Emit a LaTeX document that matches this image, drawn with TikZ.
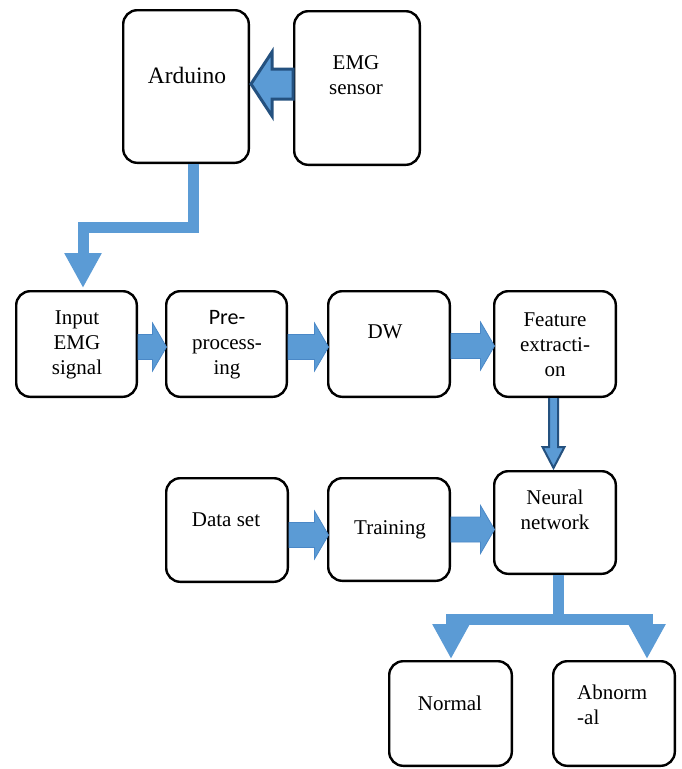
\documentclass[tikz,border=0pt]{standalone}
\usepackage{fontspec}
\setmainfont{Liberation Serif}
\newfontfamily\carl{Carlito}
\usetikzlibrary{calc,arrows.meta}
\definecolor{blk}{HTML}{5B9BD5}
\definecolor{blkdk}{HTML}{24517F}
\definecolor{blked}{HTML}{4A88C7}
\tikzset{
 box/.style={draw=black, line width=2.4pt, rounded corners=14pt, inner sep=0pt},
 txt/.style={align=center, font=\fontsize{21}{25}\selectfont, inner sep=0pt},
 blkfill/.style={fill=blk, draw=blked, line width=0.8pt},
 darkblk/.style={fill=blk, draw=blkdk, line join=miter},
 conn/.style={draw=blk, line width=11pt, line join=miter, -{Triangle[width=35pt,length=35pt]}},
 bar/.style={draw=blk, line width=11pt},
}
\newcommand\hblk[3]{\path[blkfill] let \p1=(#1.east), \p2=(#2.west), \n1={\y1+(#3)} in
 (\x1,\n1+12.5) -- (\x2-12.5,\n1+12.5) -- (\x2-12.5,\n1+24) -- (\x2+1.5,\n1) -- (\x2-12.5,\n1-24) -- (\x2-12.5,\n1-12.5) -- (\x1,\n1-12.5) -- cycle;}
\begin{document}
\begin{tikzpicture}[x=1pt,y=-1pt]
\useasboundingbox (0,0) rectangle (681,769);
\fill[white] (0,0) rectangle (681,769);
% boxes
\node[box, minimum width=125.6pt, minimum height=152.6pt] (ard) at (186,86.5) {};
\node[box, minimum width=125.6pt, minimum height=153.6pt] (emg) at (357,88) {};
\node[box, minimum width=120.6pt, minimum height=105.6pt] (inp) at (76.5,344) {};
\node[box, minimum width=120.6pt, minimum height=105.6pt] (pre) at (226.5,344) {};
\node[box, minimum width=121.6pt, minimum height=105.6pt] (dw) at (389,344) {};
\node[box, minimum width=121.6pt, minimum height=105.6pt] (fea) at (555,344) {};
\node[box, minimum width=121.6pt, minimum height=102.6pt] (nn) at (555,522.5) {};
\node[box, minimum width=121.6pt, minimum height=103.6pt] (ds) at (227,530) {};
\node[box, minimum width=121.6pt, minimum height=102.6pt] (tr) at (389,529.5) {};
\node[box, minimum width=122.6pt, minimum height=104.6pt] (nor) at (450.5,713.5) {};
\node[box, minimum width=121.6pt, minimum height=104.6pt] (abn) at (614,713.5) {};
% texts
\node[txt, font=\fontsize{23.5}{28}\selectfont] (ardt) at (187,75) {Arduino};
\node[txt] (emgt) at (356,75.5) {EMG\\sensor};
\node[txt] (inpt) at (77,345) {Input\\EMG\\signal};
\node[txt] (pret) at (227,345) {{\carl\fontsize{22}{25}\selectfont Pre-}\\process-\\ing};
\node[txt] (dwt) at (385,332) {DW};
\node[txt] (feat) at (555,344.5) {Feature\\extracti-\\on};
\node[txt] (nnt) at (555,510) {Neural\\network};
\node[txt] (dst) at (226,520) {Data set};
\node[txt] (trt) at (390,530) {Training};
\node[txt] (nort) at (450,703) {Normal};
\node[txt, align=left, anchor=west] (abnt) at (577,704.5) {Abnorm\\-al};
% EMG -> Arduino
\draw[darkblk, line width=3pt] ($(emg.west)+(0,-19)$) -- ($(emg.west)+(-21,-19)$) -- ($(emg.west)+(-21,-36)$) -- ($(ard.east)+(1,-2.5)$) -- ($(emg.west)+(-21,28)$) -- ($(emg.west)+(-21,11)$) -- ($(emg.west)+(0,11)$) -- cycle;
% Arduino -> Input
\draw[conn] ($(ard.south)+(7,0)$) -- ++(0,63) -| ($(inp.north)+(6.5,-2)$);
% horizontal block arrows
\hblk{inp}{pre}{-3}
\hblk{pre}{dw}{-3}
\hblk{dw}{fea}{-2}
\hblk{ds}{tr}{-5}
\hblk{tr}{nn}{0}
% Feature -> Neural
\draw[darkblk, line width=2pt] ($(fea.south)+(-6,0)$) -- ($(fea.south)+(-6,49)$) -- ($(fea.south)+(-12.5,49)$) -- ($(nn.north)+(-1.5,-2)$) -- ($(fea.south)+(9.5,49)$) -- ($(fea.south)+(3,49)$) -- ($(fea.south)+(3,0)$);
% Neural -> Normal / Abnormal
\coordinate (jn) at ($(nn.south)+(3,44)$);
\draw[bar] ($(nn.south)+(3,0)$) -- ($(nn.south)+(3,49)$);
\draw[conn] (jn) -| ($(nor.north)+(0.5,-1)$);
\draw[conn] (jn) -| ($(abn.north)+(33,-1)$);
\end{tikzpicture}
\end{document}
